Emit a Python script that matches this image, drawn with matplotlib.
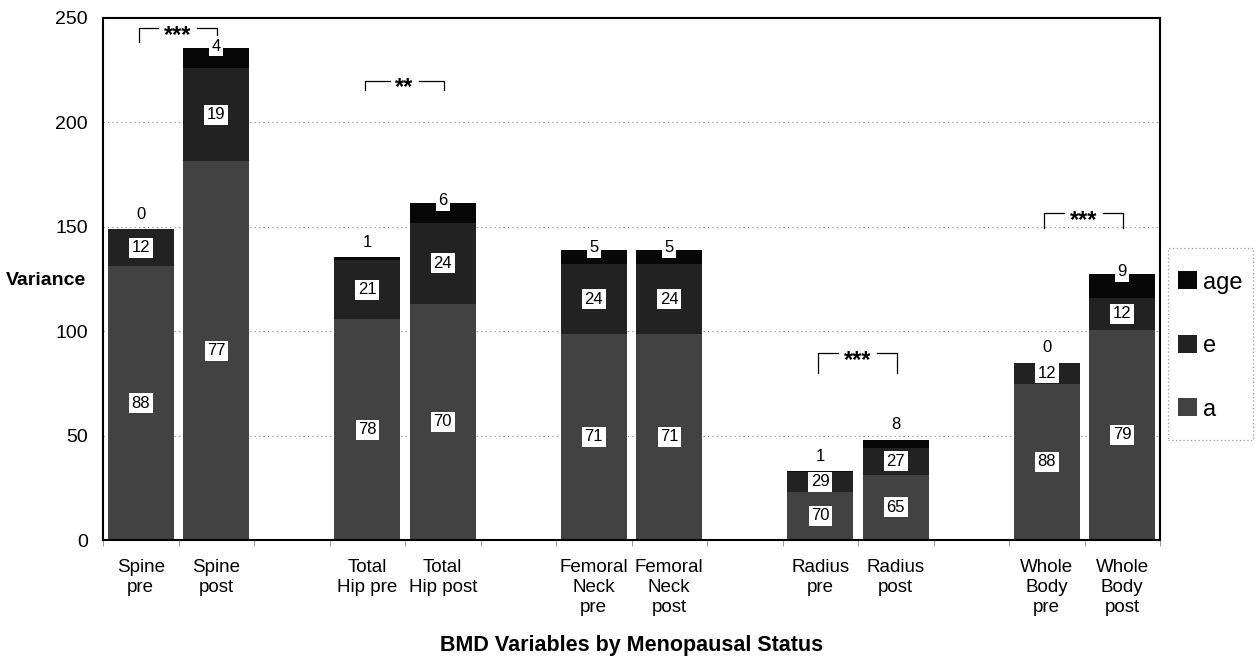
import numpy as np
import matplotlib
matplotlib.use("Agg")
import matplotlib.pyplot as plt
from matplotlib.patches import Rectangle

plt.rcParams['font.family'] = ['Liberation Sans', 'DejaVu Sans']

# Data
labels = ["Spine\npre", "Spine\npost", "Total\nHip pre", "Total\nHip post",
          "Femoral\nNeck\npre", "Femoral\nNeck\npost", "Radius\npre", "Radius\npost",
          "Whole\nBody\npre", "Whole\nBody\npost"]
totals = [149, 235.5, 135.5, 161.5, 139, 139, 33, 48, 85, 127.5]
a_pct = [88, 77, 78, 70, 71, 71, 70, 65, 88, 79]
e_pct = [12, 19, 21, 24, 24, 24, 29, 27, 12, 12]
age_pct = [0, 4, 1, 6, 5, 5, 1, 8, 0, 9]
# significance brackets: (pre index, post index, stars, bracket height, leg bottom)
sig_pairs = [(0, 1, "***", 245, 238.5), (2, 3, "**", 220, 215.5),
             (6, 7, "***", 89.5, 80), (8, 9, "***", 156.5, 149.5)]

totals = np.array(totals)
a_h = totals * np.array(a_pct) / 100
e_h = totals * np.array(e_pct) / 100
age_h = totals * np.array(age_pct) / 100

# pre/post pairs separated by an empty slot
x = np.array([3 * (i // 2) + (i % 2) for i in range(len(labels))])

fig = plt.figure(figsize=(12.58, 6.56), dpi=100)
ax = fig.add_axes([0.0819, 0.1768, 0.8402, 0.7958])

w = 0.87
c_a, c_e, c_age = '#424242', '#222222', '#070707'
ax.bar(x, a_h, w, color=c_a, label='a', zorder=2)
ax.bar(x, e_h, w, bottom=a_h, color=c_e, label='e', zorder=2)
ax.bar(x, age_h, w, bottom=a_h + e_h, color=c_age, label='age', zorder=2)

box = dict(boxstyle='square,pad=0.15', fc='white', ec='none')
fs = 12
for i in range(len(x)):
    ax.text(x[i], a_h[i] / 2, str(a_pct[i]), ha='center', va='center',
            fontsize=fs, bbox=box, zorder=4)
    ax.text(x[i], a_h[i] + e_h[i] / 2, str(e_pct[i]), ha='center', va='center',
            fontsize=fs, bbox=box, zorder=4)
    if age_h[i] < 5:
        ax.text(x[i], totals[i] + 3.5, str(age_pct[i]), ha='center', va='bottom',
                fontsize=fs, zorder=4)
    else:
        ax.text(x[i], totals[i] + 1, str(age_pct[i]), ha='center', va='center',
                fontsize=fs, bbox=box, zorder=4)

for i0, i1, stars, yb, yl in sig_pairs:
    xl, xr = x[i0] - 0.03, x[i1] + 0.01
    xm = (xl + xr) / 2
    half = 0.07 * len(stars) + 0.05
    ax.plot([xl, xl, xm - half], [yl, yb, yb], color='black', lw=0.9, zorder=3)
    ax.plot([xm + half, xr, xr], [yb, yb, yl], color='black', lw=0.9, zorder=3)
    ax.annotate(stars, (xm, yb), xytext=(0, -5), textcoords='offset points',
                ha='center', va='center', fontsize=17, fontweight='bold', zorder=3)

ax.set_xlim(-0.5, 13.5)
ax.set_ylim(0, 250)
ax.set_yticks(np.arange(0, 251, 50))
ax.set_xticks(x)
ax.set_xticklabels(labels, fontsize=13.5, linespacing=1.2)
ax.set_xticks(np.arange(-0.5, 13.6, 1), minor=True)
ax.tick_params(axis='x', which='major', length=0, pad=14)
ax.tick_params(axis='x', which='minor', length=4, color='#888888')
ax.tick_params(axis='y', labelsize=14, length=0, pad=11)
ax.yaxis.grid(True, linestyle=(0, (1, 3)), color='#888888', lw=0.8, zorder=0)
for s in ax.spines.values():
    s.set_linewidth(1.5)

ax.set_ylabel('Variance', fontsize=14, fontweight='bold', rotation=0)
ax.yaxis.label.set_va('center')
ax.yaxis.label.set_ha('center')
ax.yaxis.set_label_coords(-0.054, 0.498)
ax.set_xlabel('BMD Variables by Menopausal Status', fontsize=15.5,
              fontweight='bold', labelpad=14)

# legend: entries without frame, dotted box drawn separately
h, l = ax.get_legend_handles_labels()
fig.legend(h[::-1], l[::-1], loc='center left', bbox_to_anchor=(1178 / 1258, 0.4726),
           fontsize=17, frameon=False, labelspacing=1.75,
           handlelength=0.8, handleheight=0.8, handletextpad=0.25,
           borderpad=0, borderaxespad=0)
fig.patches.append(Rectangle((1168 / 1258, 0.3293), 85 / 1258, 0.2927,
                             transform=fig.transFigure, fill=False,
                             edgecolor='#999999', lw=0.9, linestyle=(0, (1, 2))))

fig.savefig('out.png', dpi=100)
